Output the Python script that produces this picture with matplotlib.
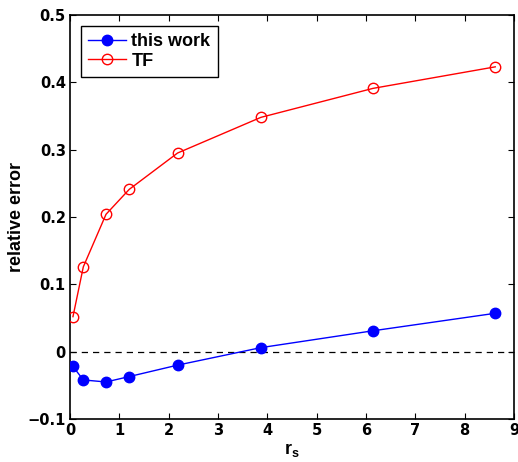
import matplotlib
matplotlib.use("Agg")
import matplotlib.pyplot as plt

rs = [0.06, 0.27, 0.73, 1.2, 2.18, 3.87, 6.14, 8.62]
this_work = [-0.022, -0.042, -0.045, -0.037, -0.020, 0.006, 0.031, 0.057]
tf = [0.052, 0.126, 0.204, 0.241, 0.295, 0.348, 0.391, 0.423]
xticks = list(range(0, 10))
yticks = [-0.1, 0, 0.1, 0.2, 0.3, 0.4, 0.5]
ytick_labels = ["\u22120.1", "0", "0.1", "0.2", "0.3", "0.4", "0.5"]

plt.rcParams['font.family'] = ['Liberation Sans', 'DejaVu Sans']
plt.rcParams['font.weight'] = 'bold'
plt.rcParams['mathtext.fontset'] = 'custom'
plt.rcParams['mathtext.bf'] = 'Liberation Sans:bold'
plt.rcParams['mathtext.rm'] = 'Liberation Sans:bold'

fig = plt.figure(figsize=(5.18, 4.62), dpi=100)
ax = fig.add_axes([70/518, 43/462, 444/518, 404/462])

ax.axhline(0, color='black', linestyle=(0, (5, 4)), linewidth=0.9, zorder=1)
ax.plot(rs, this_work, '-o', color='blue', linewidth=1.0, markersize=7.5,
        markerfacecolor='blue', markeredgecolor='blue', label='this work', zorder=3)
ax.plot(rs, tf, '-o', color='red', linewidth=1.0, markersize=7.5,
        markerfacecolor='none', markeredgecolor='red', label='TF', zorder=3)

ax.set_xlim(0, 9)
ax.set_ylim(-0.1, 0.5)
ax.set_xticks(xticks)
ax.set_yticks(yticks)
ax.set_xticklabels([str(t) for t in xticks], family='DejaVu Sans', fontweight='bold', fontsize=10.5)
ax.set_yticklabels(ytick_labels, family='DejaVu Sans', fontweight='bold', fontsize=10.5)
ax.tick_params(direction='in', top=True, right=True, length=4, width=0.8, pad=3)
for s in ax.spines.values():
    s.set_linewidth(1.2)

ax.set_xlabel(r'$\mathbf{r_s}$', fontsize=13, labelpad=2)
ax.set_ylabel('relative error', fontsize=13, fontweight='bold', labelpad=2)

leg = ax.legend(loc='upper left', prop={'size': 13, 'weight': 'bold'}, frameon=True,
                fancybox=False, edgecolor='black', framealpha=1, borderaxespad=0.6,
                handlelength=2.1, handletextpad=0.3, borderpad=0.4, labelspacing=0.15)
leg.get_frame().set_linewidth(1.0)

fig.savefig('out.png', dpi=100)
